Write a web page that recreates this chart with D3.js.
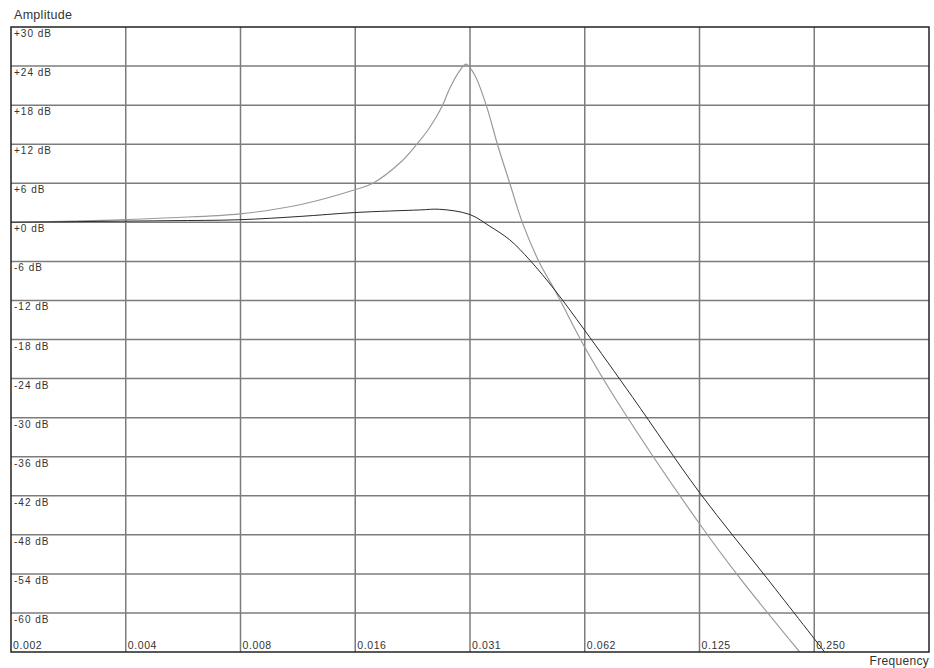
<!DOCTYPE html>
<html lang="en">
<head>
    <meta charset="UTF-8">
    <title>Amplitude / Frequency</title>
    <script src="https://d3js.org/d3.v7.min.js"></script>
    <style>
        body { margin: 0; background: #fff; }
        text { font-family: "Liberation Sans", Arial, sans-serif; fill: #333; }
    </style>
</head>
<body>
    <div id="chart"></div>
    <script>
        // Axis ticks and labels
        const freqTicks = [1/512, 1/256, 1/128, 1/64, 1/32, 1/16, 1/8, 1/4];
        const freqLabels = ["0.002", "0.004", "0.008", "0.016", "0.031", "0.062", "0.125", "0.250"];
        const dbTicks = [30, 24, 18, 12, 6, 0, -6, -12, -18, -24, -30, -36, -42, -48, -54, -60];
        const dbLabels = ["+30 dB", "+24 dB", "+18 dB", "+12 dB", "+6 dB", "+0 dB", "-6 dB", "-12 dB",
            "-18 dB", "-24 dB", "-30 dB", "-36 dB", "-42 dB", "-48 dB", "-54 dB", "-60 dB"];

        // Resonant curve (light grey)
        const resFreq = [0.001953, 0.003403, 0.005101, 0.007783, 0.01118, 0.01559, 0.01738, 0.02045,
            0.02267, 0.02452, 0.02635, 0.02766, 0.02938, 0.0305, 0.03217, 0.03459, 0.03696,
            0.03974, 0.04298, 0.04763, 0.05215, 0.0625, 0.07582, 0.125, 0.1613, 0.2289];
        const resDb = [0, 0.3, 0.7, 1.3, 2.7, 5.0, 6.0, 9.1,
            12.0, 14.6, 17.7, 20.6, 23.3, 24.3, 22.6, 17.7, 11.8,
            6.0, -0.2, -6.3, -10.4, -19.2, -27.4, -46.3, -55.0, -66.0];

        // Damped curve (dark)
        const flatFreq = [0.001953, 0.003403, 0.005101, 0.007783, 0.01118, 0.01559, 0.02308, 0.02604,
            0.03121, 0.03521, 0.03974, 0.04484, 0.05215, 0.0625, 0.08351, 0.125, 0.1875, 0.2662];
        const flatDb = [0, 0.15, 0.25, 0.4, 0.9, 1.5, 1.9, 2.0,
            1.2, -0.6, -2.7, -5.8, -10.4, -16.6, -26.9, -41.5, -54.6, -66.0];

        const width = 934;
        const height = 668;
        const plotLeft = 11, plotRight = 929, plotTop = 27, plotBottom = 652;

        const svg = d3.select("#chart")
            .append("svg")
            .attr("width", width)
            .attr("height", height);

        const x = d3.scaleLog().base(2)
            .domain([1/512, 1/2])
            .range([plotLeft, plotRight]);

        const y = d3.scaleLinear()
            .domain([-66, 30])
            .range([plotBottom, plotTop]);

        svg.append("clipPath").attr("id", "plotClip")
            .append("rect")
            .attr("x", plotLeft).attr("y", plotTop)
            .attr("width", plotRight - plotLeft).attr("height", plotBottom - plotTop);

        // grid lines
        svg.append("g").selectAll("line")
            .data(freqTicks.slice(1))
            .join("line")
            .attr("x1", d => x(d)).attr("x2", d => x(d))
            .attr("y1", plotTop).attr("y2", plotBottom)
            .attr("stroke", "#7c7c7c")
            .attr("stroke-width", 1.5);

        svg.append("g").selectAll("line")
            .data(dbTicks.slice(1))
            .join("line")
            .attr("x1", plotLeft).attr("x2", plotRight)
            .attr("y1", d => y(d)).attr("y2", d => y(d))
            .attr("stroke", "#7c7c7c")
            .attr("stroke-width", 1.5);

        // tick labels, inside the cells
        svg.append("g").selectAll("text")
            .data(dbTicks)
            .join("text")
            .attr("x", plotLeft + 3)
            .attr("y", d => y(d) + 10)
            .attr("font-size", 10)
            .attr("letter-spacing", 1)
            .text((d, i) => dbLabels[i]);

        svg.append("g").selectAll("text")
            .data(freqTicks)
            .join("text")
            .attr("x", d => x(d) + 2)
            .attr("y", plotBottom - 3)
            .attr("font-size", 10.5)
            .attr("letter-spacing", 0.6)
            .text((d, i) => freqLabels[i]);

        // curves
        const line = d3.line()
            .x(d => x(d[0]))
            .y(d => y(d[1]))
            .curve(d3.curveCatmullRom.alpha(0.5));

        const plot = svg.append("g").attr("clip-path", "url(#plotClip)");

        plot.append("path")
            .datum(resFreq.map((f, i) => [f, resDb[i]]))
            .attr("d", line)
            .attr("fill", "none")
            .attr("stroke", "#9a9a9a")
            .attr("stroke-width", 1.2);

        plot.append("path")
            .datum(flatFreq.map((f, i) => [f, flatDb[i]]))
            .attr("d", line)
            .attr("fill", "none")
            .attr("stroke", "#2a2a2a")
            .attr("stroke-width", 1);

        // frame
        svg.append("rect")
            .attr("x", plotLeft).attr("y", plotTop)
            .attr("width", plotRight - plotLeft).attr("height", plotBottom - plotTop)
            .attr("fill", "none")
            .attr("stroke", "#222")
            .attr("stroke-width", 1.5);

        // axis titles
        svg.append("text")
            .attr("x", 14).attr("y", 19)
            .attr("font-size", 12.5)
            .attr("letter-spacing", 0.3)
            .text("Amplitude");

        svg.append("text")
            .attr("x", plotRight).attr("y", 665)
            .attr("text-anchor", "end")
            .attr("font-size", 12)
            .attr("letter-spacing", 0.3)
            .text("Frequency");
    </script>
</body>
</html>
